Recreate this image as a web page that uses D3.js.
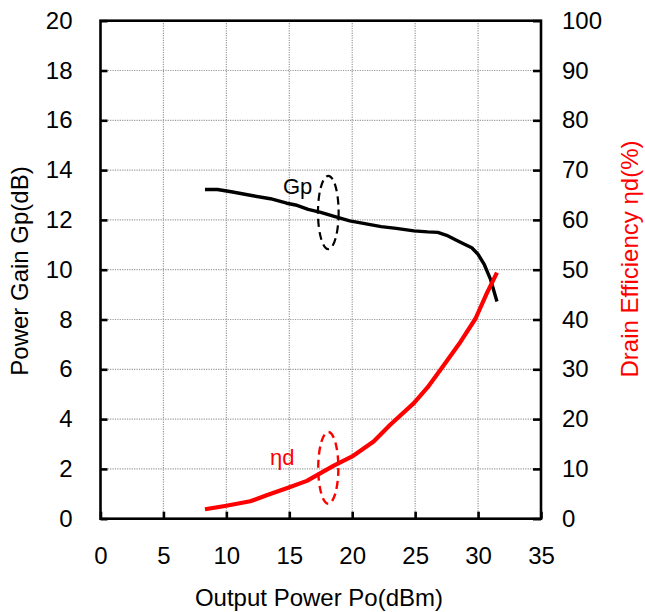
<!DOCTYPE html>
<html>
<head>
<meta charset="utf-8">
<script src="https://cdn.jsdelivr.net/npm/d3@7"></script>
<style>
  html, body { margin: 0; padding: 0; background: #fff; }
  svg { display: block; font-family: "Liberation Sans", Arial, sans-serif; }
</style>
</head>
<body>
<svg id="chart" width="645" height="612"></svg>
<script>
// Output power sweep (dBm) and the measured power gain (dB)
const gainPo = [8.3, 9.3, 10.5, 12.0, 13.5, 14.8, 15.5, 16.5, 17.5, 18.5, 19.8, 21.0, 22.3, 23.5, 24.9, 26.0, 26.8, 27.5, 28.2, 28.8, 29.5, 30.0, 30.5, 31.0, 31.5];
const gainDb = [13.22, 13.22, 13.12, 12.98, 12.85, 12.67, 12.6, 12.42, 12.3, 12.15, 11.96, 11.85, 11.73, 11.66, 11.56, 11.52, 11.5, 11.38, 11.2, 11.05, 10.88, 10.62, 10.2, 9.6, 8.72];

// Output power sweep (dBm) and the drain efficiency (%)
const effPo = [8.3, 10.0, 11.9, 13.2, 14.9, 16.4, 17.45, 18.5, 20.0, 21.7, 23.0, 24.9, 26.0, 27.1, 28.6, 29.8, 30.7, 31.5];
const effPct = [1.9, 2.6, 3.5, 4.7, 6.2, 7.6, 9.1, 10.6, 12.5, 15.5, 18.8, 23.2, 26.4, 30.2, 35.5, 40.2, 45.3, 49.4];

// Tick values
const xTicks = [0, 5, 10, 15, 20, 25, 30, 35];
const yLeftTicks = [0, 2, 4, 6, 8, 10, 12, 14, 16, 18, 20];
const yRightTicks = [0, 10, 20, 30, 40, 50, 60, 70, 80, 90, 100];

const svg = d3.select("#chart");
const L = 100.5, R = 541, T = 20.7, B = 518.7;

const x = d3.scaleLinear().domain([0, 35]).range([L, R]);
const yG = d3.scaleLinear().domain([0, 20]).range([B, T]);
const yE = d3.scaleLinear().domain([0, 100]).range([B, T]);

const FS = 24;

// Dotted grid
const grid = svg.append("g").attr("stroke", "#9a9a9a").attr("stroke-width", 1.2).attr("stroke-dasharray", "1.2,1.2");
xTicks.slice(1, -1).forEach(v => {
  grid.append("line").attr("x1", x(v)).attr("x2", x(v)).attr("y1", T).attr("y2", B);
});
yLeftTicks.slice(1, -1).forEach(v => {
  grid.append("line").attr("x1", L).attr("x2", R).attr("y1", yG(v)).attr("y2", yG(v));
});

// Axes: ticks point inward
const axX = d3.axisBottom(x).tickValues(xTicks).tickSize(-7).tickPadding(28).tickFormat(d3.format("d"));
const axL = d3.axisLeft(yG).tickValues(yLeftTicks).tickSize(-7).tickPadding(28).tickFormat(d3.format("d"));
const axR = d3.axisRight(yE).tickValues(yRightTicks).tickSize(-8).tickPadding(21).tickFormat(d3.format("d"));

function styleAxis(g) {
  g.select(".domain").remove();
  g.selectAll(".tick line").attr("stroke", "#000").attr("stroke-width", 2.6);
  g.selectAll(".tick text").attr("fill", "#000").attr("font-size", FS).attr("font-family", "Liberation Sans, Arial, sans-serif");
}
svg.append("g").attr("transform", `translate(0,${B})`).call(axX).call(styleAxis);
svg.append("g").attr("transform", `translate(${L},0)`).call(axL).call(styleAxis);
svg.append("g").attr("transform", `translate(${R},0)`).call(axR).call(styleAxis);

// Frame
svg.append("rect").attr("x", L).attr("y", T).attr("width", R - L).attr("height", B - T)
  .attr("fill", "none").attr("stroke", "#000").attr("stroke-width", 2.6);

// Curves
const gainLine = d3.line().x((d, i) => x(gainPo[i])).y(d => yG(d));
svg.append("path").attr("d", gainLine(gainDb)).attr("fill", "none")
  .attr("stroke", "#000").attr("stroke-width", 3.4).attr("stroke-linejoin", "round");

const effLine = d3.line().x((d, i) => x(effPo[i])).y(d => yE(d));
svg.append("path").attr("d", effLine(effPct)).attr("fill", "none")
  .attr("stroke", "#ff0000").attr("stroke-width", 4.2).attr("stroke-linejoin", "round");

// Dashed ellipses marking which axis each curve belongs to
svg.append("ellipse").attr("cx", x(18.1)).attr("cy", yG(12.3))
  .attr("rx", x(18.1 + 0.82) - x(18.1)).attr("ry", yG(12.3) - yG(12.3 + 1.47))
  .attr("fill", "none").attr("stroke", "#000").attr("stroke-width", 2.2).attr("stroke-dasharray", "8,5");
svg.append("ellipse").attr("cx", x(18.1)).attr("cy", yE(10.2))
  .attr("rx", x(18.1 + 0.8) - x(18.1)).attr("ry", yE(10.2) - yE(10.2 + 7.2))
  .attr("fill", "none").attr("stroke", "#ff0000").attr("stroke-width", 2.4).attr("stroke-dasharray", "8,5");

// Curve labels
svg.append("text").attr("x", 283).attr("y", 193.5).attr("font-size", 22).attr("fill", "#000").text("Gp");
svg.append("text").attr("x", 270).attr("y", 465).attr("font-size", 22).attr("fill", "#ff0000").text("ηd");

// Axis titles
svg.append("text").attr("x", 319).attr("y", 606).attr("text-anchor", "middle")
  .attr("font-size", FS).attr("fill", "#000").text("Output Power Po(dBm)");
svg.append("text").attr("transform", "translate(28,271) rotate(-90)").attr("text-anchor", "middle")
  .attr("font-size", FS).attr("fill", "#000").text("Power Gain Gp(dB)");
svg.append("text").attr("transform", "translate(638,259) rotate(-90)").attr("text-anchor", "middle")
  .attr("font-size", FS).attr("fill", "#ff0000").text("Drain Efficiency ηd(%)");
</script>
</body>
</html>
